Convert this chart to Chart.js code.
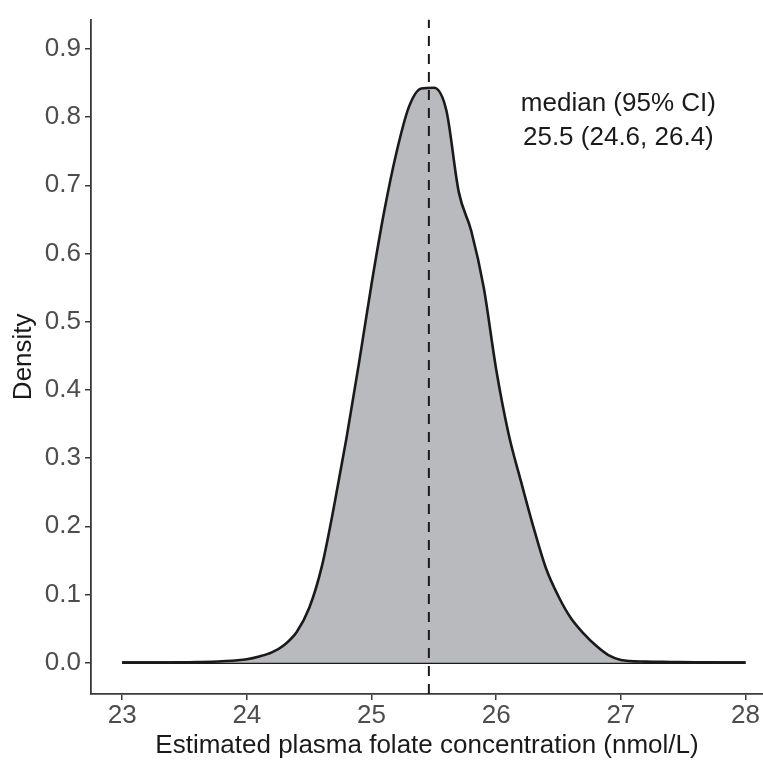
<!DOCTYPE html>
<html>
<head>
<meta charset="utf-8">
<script src="https://cdn.jsdelivr.net/npm/chart.js@4.4.1/dist/chart.umd.min.js"></script>
<style>
  html, body { margin: 0; padding: 0; background: #fff; }
  canvas { display: block; }
</style>
</head>
<body>
<canvas id="densityChart" width="763" height="764"></canvas>
<script>
// Density values
const folateX = [23.0, 23.2, 23.4, 23.6, 23.8, 24.0, 24.1, 24.2, 24.3, 24.4, 24.5, 24.6, 24.7, 24.8, 24.9,
  25.0, 25.1, 25.2, 25.3, 25.4, 25.5, 25.6, 25.7, 25.8, 25.9, 26.0, 26.1, 26.2, 26.3, 26.4, 26.5,
  26.6, 26.7, 26.8, 26.9, 27.0, 27.2, 27.4, 27.6, 27.8, 28.0];
const densityY = [0.0, 0.0, 0.0003, 0.0008, 0.002, 0.005, 0.009, 0.015, 0.026, 0.045, 0.08, 0.14, 0.23, 0.33, 0.44,
  0.555, 0.66, 0.748, 0.815, 0.842, 0.843, 0.81, 0.69, 0.633, 0.55, 0.43, 0.335, 0.265, 0.198, 0.138, 0.097,
  0.065, 0.043, 0.025, 0.011, 0.004, 0.0015, 0.001, 0.0005, 0.0003, 0.0];

const medianX = 25.46;
const xTicks = [23, 24, 25, 26, 27, 28];
const yTicks = [0, 0.1, 0.2, 0.3, 0.4, 0.5, 0.6, 0.7, 0.8, 0.9];
const noteLines = ["median (95% CI)", "25.5 (24.6, 26.4)"];

const X_MIN = 22.75, X_MAX = 28.14;
const Y_MIN = -0.046, Y_MAX = 0.943;

const FONT = "'Liberation Sans', Arial, Helvetica, sans-serif";
const tickColor = "#4d4d4d";
const axisColor = "#3a3a3a";

const curve = folateX.map((x, i) => ({ x: x, y: densityY[i] }));
const baseline = [{ x: folateX[0], y: 0 }, { x: folateX[folateX.length - 1], y: 0 }];
const vline = [{ x: medianX, y: Y_MIN }, { x: medianX, y: Y_MAX }];

// text in the top right corner
const notePlugin = {
  id: "note",
  afterDatasetsDraw(chart) {
    const { ctx, scales } = chart;
    ctx.save();
    ctx.font = "26px " + FONT;
    ctx.fillStyle = "#1a1a1a";
    ctx.textAlign = "center";
    ctx.textBaseline = "middle";
    const cx = scales.x.getPixelForValue(26.98);
    ctx.fillText(noteLines[0], cx, scales.y.getPixelForValue(0.82));
    ctx.fillText(noteLines[1], cx, scales.y.getPixelForValue(0.77));
    ctx.restore();
  }
};

new Chart(document.getElementById("densityChart").getContext("2d"), {
  type: "line",
  data: {
    datasets: [
      {
        data: vline, borderColor: "#1a1a1a", borderWidth: 2, borderDash: [10, 8],
        pointRadius: 0, fill: false, order: 0
      },
      {
        data: curve, borderColor: "#1a1a1a", borderWidth: 2.6, backgroundColor: "#b9babd",
        fill: "origin", pointRadius: 0, cubicInterpolationMode: "monotone", order: 1
      },
      {
        data: baseline, borderColor: "#1a1a1a", borderWidth: 2.6, pointRadius: 0, fill: false, order: 2
      }
    ]
  },
  options: {
    responsive: false,
    animation: false,
    devicePixelRatio: 1,
    layout: { padding: { top: 10, right: 0, bottom: 0, left: 0 } },
    plugins: { legend: { display: false }, tooltip: { enabled: false } },
    scales: {
      x: {
        type: "linear", min: X_MIN, max: X_MAX,
        afterBuildTicks: s => { s.ticks = xTicks.map(v => ({ value: v })); },
        afterFit: s => { s.height = 70; },
        grid: { display: true, drawOnChartArea: false, drawTicks: true, tickLength: 6, color: axisColor, lineWidth: 1.5 },
        border: { display: true, color: axisColor, width: 1.8 },
        ticks: { color: tickColor, font: { family: FONT, size: 26 }, padding: 0, maxRotation: 0, callback: v => String(v) },
        title: { display: true, text: "Estimated plasma folate concentration (nmol/L)", color: "#1a1a1a",
          font: { family: FONT, size: 26 }, padding: { top: 0, bottom: 3 } }
      },
      y: {
        type: "linear", min: Y_MIN, max: Y_MAX,
        afterBuildTicks: s => { s.ticks = yTicks.map(v => ({ value: v })); },
        afterFit: s => { s.width = 91; },
        grid: { display: true, drawOnChartArea: false, drawTicks: true, tickLength: 6, color: axisColor, lineWidth: 1.5 },
        border: { display: true, color: axisColor, width: 1.8 },
        ticks: { color: tickColor, font: { family: FONT, size: 26 }, padding: 4, callback: v => v.toFixed(1) },
        title: { display: true, text: "Density", color: "#1a1a1a",
          font: { family: FONT, size: 26 }, padding: { top: 8, bottom: 0 } }
      }
    }
  },
  plugins: [notePlugin]
});
</script>
</body>
</html>
